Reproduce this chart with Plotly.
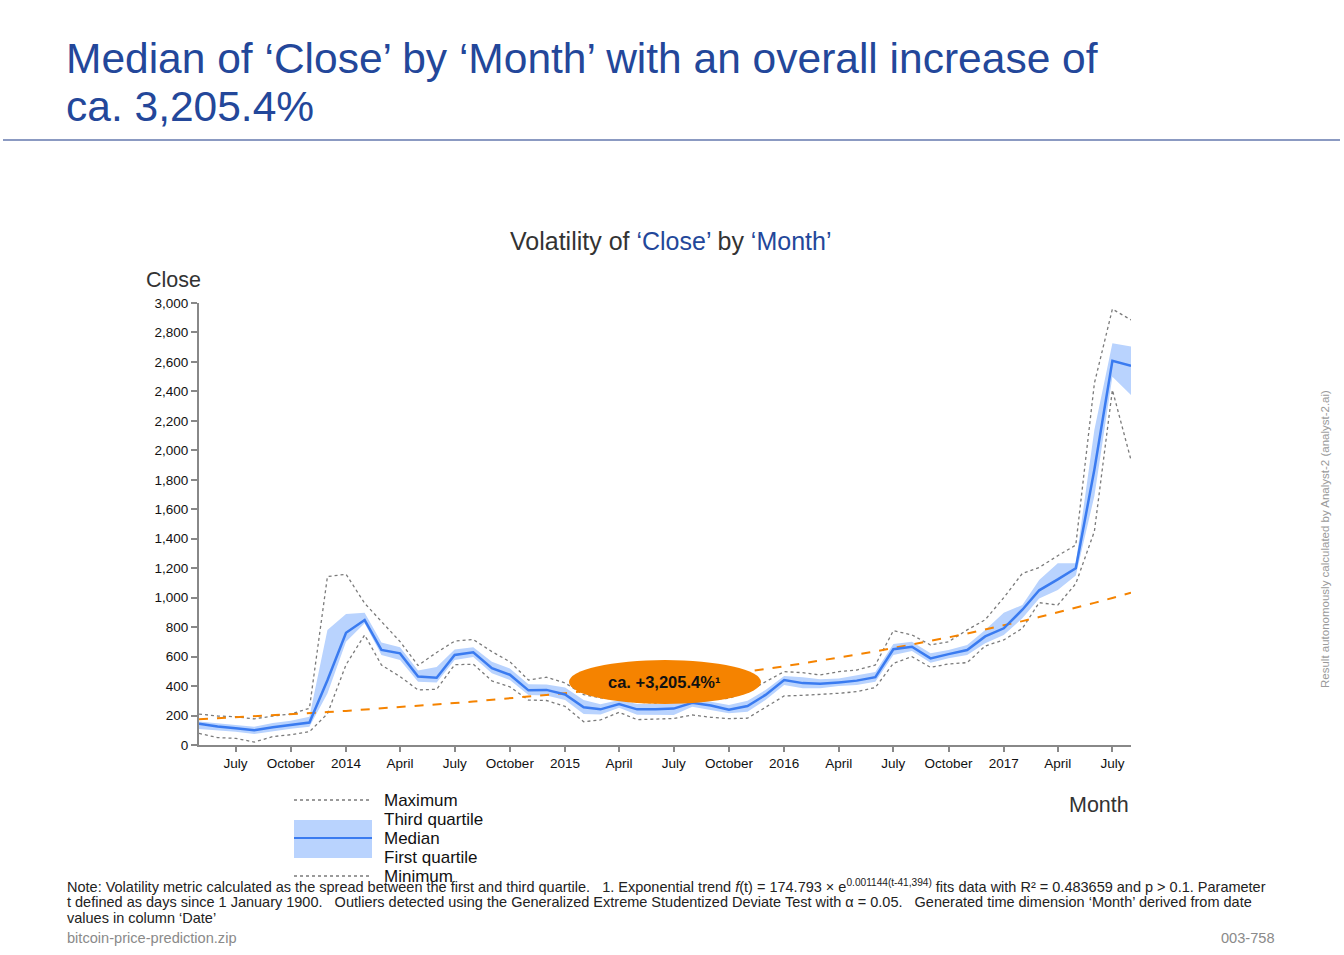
import pandas as pd
import plotly.graph_objects as go

# ---------------- data ----------------
# points are placed at the first day of each month from May 2013 to Aug 2017
months = pd.date_range("2013-05-01", periods=52, freq="MS")

close_min = [79, 50, 45, 20, 57, 70, 90, 212,
             545, 747, 543, 464, 374, 378, 545, 548, 435, 395, 305, 302,
             262, 158, 170, 222, 172, 178, 180, 204, 188, 179, 182, 256,
             333, 337, 342, 351, 362, 390, 554, 600, 527, 550, 559, 672,
             713, 792, 966, 950, 1095, 1450, 2410, 1934]
close_q1 = [109, 100, 90, 75, 95, 110, 124, 350,
            701, 826, 611, 577, 430, 425, 577, 597, 487, 441, 340, 336,
            305, 210, 207, 252, 205, 205, 204, 260, 238, 215, 226, 305,
            407, 385, 385, 400, 407, 430, 611, 638, 559, 588, 611, 690,
            747, 860, 995, 1052, 1150, 1690, 2500, 2376]
close_median = [145, 125, 113, 100, 120, 138, 152, 440,
                762, 848, 645, 622, 465, 457, 611, 629, 521, 477, 371, 374,
                343, 256, 242, 278, 242, 242, 247, 287, 268, 240, 265, 340,
                441, 420, 415, 425, 437, 460, 650, 667, 588, 617, 645, 737,
                792, 918, 1050, 1124, 1200, 1870, 2607, 2573]
close_q3 = [160, 145, 135, 124, 150, 165, 192, 780,
            889, 898, 695, 663, 505, 530, 648, 663, 565, 520, 412, 410,
            390, 305, 277, 305, 278, 278, 283, 310, 294, 271, 301, 373,
            468, 459, 446, 452, 475, 495, 686, 701, 622, 645, 679, 781,
            898, 950, 1120, 1233, 1233, 2140, 2726, 2704]
close_max = [210, 197, 192, 177, 197, 210, 249, 1143,
             1159, 962, 838, 702, 540, 628, 705, 716, 634, 565, 441, 460,
             421, 342, 320, 310, 290, 285, 300, 330, 310, 317, 362, 430,
             498, 491, 475, 498, 509, 543, 776, 747, 679, 701, 781, 850,
             1000, 1165, 1205, 1285, 1357, 2455, 2959, 2885]

# exponential trend as stated in the chart's note: f(t) = A * e^(k (t - t0)),
# t = days since 1 January 1900 (spreadsheet serial)
trend_a = 174.793
trend_k = 0.001144
trend_t0 = 41394

y_ticks = list(range(0, 3001, 200))
x_tick_dates = pd.date_range("2013-07-01", "2017-07-01", freq="QS-JAN")
x_tick_labels = ["July", "October",
                 "2014", "April", "July", "October",
                 "2015", "April", "July", "October",
                 "2016", "April", "July", "October",
                 "2017", "April", "July"]

# ---------------- figure geometry ----------------
W, H = 1344, 955
L, R, T, B = 199, 1131, 303, 745

def px(x):
    return (x - L) / (R - L)

def py(y):
    return (B - y) / (B - T)

FONT = "Liberation Sans, Arial, sans-serif"
BLUE_TITLE = "#23479A"
BAND = "#B9D3FE"
MEDIAN = "#3A7BF0"
ORANGE = "#F58300"
GREY_DOT = "#7a7a7a"

serial = [(d - pd.Timestamp("1899-12-30")).days for d in months]
trend = [trend_a * (2.718281828459045 ** (trend_k * (s - trend_t0))) for s in serial]

fig = go.Figure()
fig.add_trace(go.Scatter(x=months, y=close_q1, mode="lines", line=dict(width=0, color=BAND),
                         hoverinfo="skip", showlegend=False))
fig.add_trace(go.Scatter(x=months, y=close_q3, mode="lines", line=dict(width=0, color=BAND),
                         fill="tonexty", fillcolor=BAND, hoverinfo="skip", showlegend=False))
fig.add_trace(go.Scatter(x=months, y=close_max, mode="lines",
                         line=dict(color=GREY_DOT, width=1.3, dash="dot"), showlegend=False))
fig.add_trace(go.Scatter(x=months, y=close_min, mode="lines",
                         line=dict(color=GREY_DOT, width=1.3, dash="dot"), showlegend=False))
fig.add_trace(go.Scatter(x=months, y=trend, mode="lines",
                         line=dict(color=ORANGE, width=2, dash="dash"), showlegend=False))
fig.add_trace(go.Scatter(x=months, y=close_median, mode="lines",
                         line=dict(color=MEDIAN, width=2.5), showlegend=False))

shapes = []
annotations = []

# header rule
shapes.append(dict(type="line", xref="paper", yref="paper", x0=px(3), x1=px(1340),
                   y0=py(140), y1=py(140), line=dict(color="#6479AE", width=1.5)))

# highlight ellipse
shapes.append(dict(type="circle", xref="paper", yref="paper", x0=px(569), x1=px(761),
                   y0=py(704), y1=py(660), fillcolor=ORANGE, line=dict(width=0), layer="above"))
annotations.append(dict(xref="paper", yref="paper", x=px(664), y=py(682), text="<b>ca. +3,205.4%¹</b>",
                        showarrow=False, font=dict(size=16.5, color="#111", family=FONT),
                        xanchor="center", yanchor="middle"))

# legend (custom)
lx0, lx1 = 294, 372
shapes.append(dict(type="line", xref="paper", yref="paper", x0=px(lx0), x1=px(lx1), y0=py(800), y1=py(800),
                   line=dict(color=GREY_DOT, width=1.3, dash="dot")))
shapes.append(dict(type="rect", xref="paper", yref="paper", x0=px(lx0), x1=px(lx1), y0=py(858), y1=py(820),
                   fillcolor=BAND, line=dict(width=0)))
shapes.append(dict(type="line", xref="paper", yref="paper", x0=px(lx0), x1=px(lx1), y0=py(838), y1=py(838),
                   line=dict(color=MEDIAN, width=2)))
shapes.append(dict(type="line", xref="paper", yref="paper", x0=px(lx0), x1=px(lx1), y0=py(876), y1=py(876),
                   line=dict(color=GREY_DOT, width=1.3, dash="dot")))
for label, yy in [("Maximum", 800), ("Third quartile", 819), ("Median", 838),
                  ("First quartile", 857), ("Minimum", 876)]:
    annotations.append(dict(xref="paper", yref="paper", x=px(382), y=py(yy), text=label, showarrow=False,
                            xanchor="left", yanchor="middle", font=dict(size=17, color="#111", family=FONT)))

# titles
annotations.append(dict(xref="paper", yref="paper", x=px(64), y=py(59),
                        text="Median of ‘Close’ by ‘Month’ with an overall increase of",
                        showarrow=False, xanchor="left", yanchor="middle",
                        font=dict(size=42.5, color=BLUE_TITLE, family=FONT)))
annotations.append(dict(xref="paper", yref="paper", x=px(64), y=py(106),
                        text="ca. 3,205.4%", showarrow=False, xanchor="left", yanchor="middle",
                        font=dict(size=42.5, color=BLUE_TITLE, family=FONT)))
annotations.append(dict(xref="paper", yref="paper", x=px(670), y=py(241),
                        text="Volatility of <span style='color:%s'>‘Close’</span> by <span style='color:%s'>‘Month’</span>" % (BLUE_TITLE, BLUE_TITLE),
                        showarrow=False, xanchor="center", yanchor="middle",
                        font=dict(size=25, color="#333", family=FONT)))
annotations.append(dict(xref="paper", yref="paper", x=px(144), y=py(280), text="Close", showarrow=False,
                        xanchor="left", yanchor="middle", font=dict(size=21.5, color="#333", family=FONT)))
annotations.append(dict(xref="paper", yref="paper", x=px(1131), y=py(805), text="Month", showarrow=False,
                        xanchor="right", yanchor="middle", font=dict(size=21.5, color="#333", family=FONT)))

# side credit
annotations.append(dict(xref="paper", yref="paper", x=px(1325), y=py(539),
                        text="Result autonomously calculated by Analyst-2 (analyst-2.ai)", textangle=-90,
                        showarrow=False, xanchor="center", yanchor="middle",
                        font=dict(size=11.5, color="#9a9a9a", family=FONT)))

# footnotes
notes = [
    "Note: Volatility metric calculated as the spread between the first and third quartile.   1. Exponential trend <i>f</i>(t) = 174.793 × e<sup>0.001144(t-41,394)</sup> fits data with R² = 0.483659 and p > 0.1. Parameter",
    "t defined as days since 1 January 1900.   Outliers detected using the Generalized Extreme Studentized Deviate Test with α = 0.05.   Generated time dimension ‘Month’ derived from date",
    "values in column ‘Date’",
]
for txt, yy in zip(notes, [886, 902, 918]):
    annotations.append(dict(xref="paper", yref="paper", x=px(65), y=py(yy), text=txt, showarrow=False,
                            xanchor="left", yanchor="middle", font=dict(size=14.5, color="#222", family=FONT)))
annotations.append(dict(xref="paper", yref="paper", x=px(65), y=py(938), text="bitcoin-price-prediction.zip",
                        showarrow=False, xanchor="left", yanchor="middle",
                        font=dict(size=14.6, color="#8a8a8a", family=FONT)))
annotations.append(dict(xref="paper", yref="paper", x=px(1277), y=py(938), text="003-758",
                        showarrow=False, xanchor="right", yanchor="middle",
                        font=dict(size=14.6, color="#8a8a8a", family=FONT)))

fig.update_layout(
    width=W, height=H, autosize=False,
    margin=dict(l=L, r=W - R, t=T, b=H - B, pad=0),
    paper_bgcolor="white", plot_bgcolor="white",
    font=dict(family=FONT, color="#222"),
    showlegend=False, hovermode=False,
    shapes=shapes, annotations=annotations,
    xaxis=dict(range=[months[0], months[-1]], showgrid=False, zeroline=False,
               tickmode="array", tickvals=list(x_tick_dates), ticktext=x_tick_labels,
               ticks="outside", ticklen=5, tickcolor="#888", tickwidth=1.5,
               showline=True, linecolor="#888", linewidth=2,
               tickfont=dict(size=13.5, color="#111", family=FONT)),
    yaxis=dict(range=[0, 3000], showgrid=False, zeroline=False,
               tickmode="array", tickvals=y_ticks, ticktext=[f"{v:,}" for v in y_ticks],
               ticks="outside", ticklen=6, tickcolor="#888", tickwidth=1.5,
               showline=True, linecolor="#888", linewidth=2,
               tickfont=dict(size=13.5, color="#111", family=FONT)),
)

fig.write_html("out.html", config={"displayModeBar": False},
               post_script="document.body.style.margin='0';document.body.style.padding='0';document.body.style.overflow='hidden';")
